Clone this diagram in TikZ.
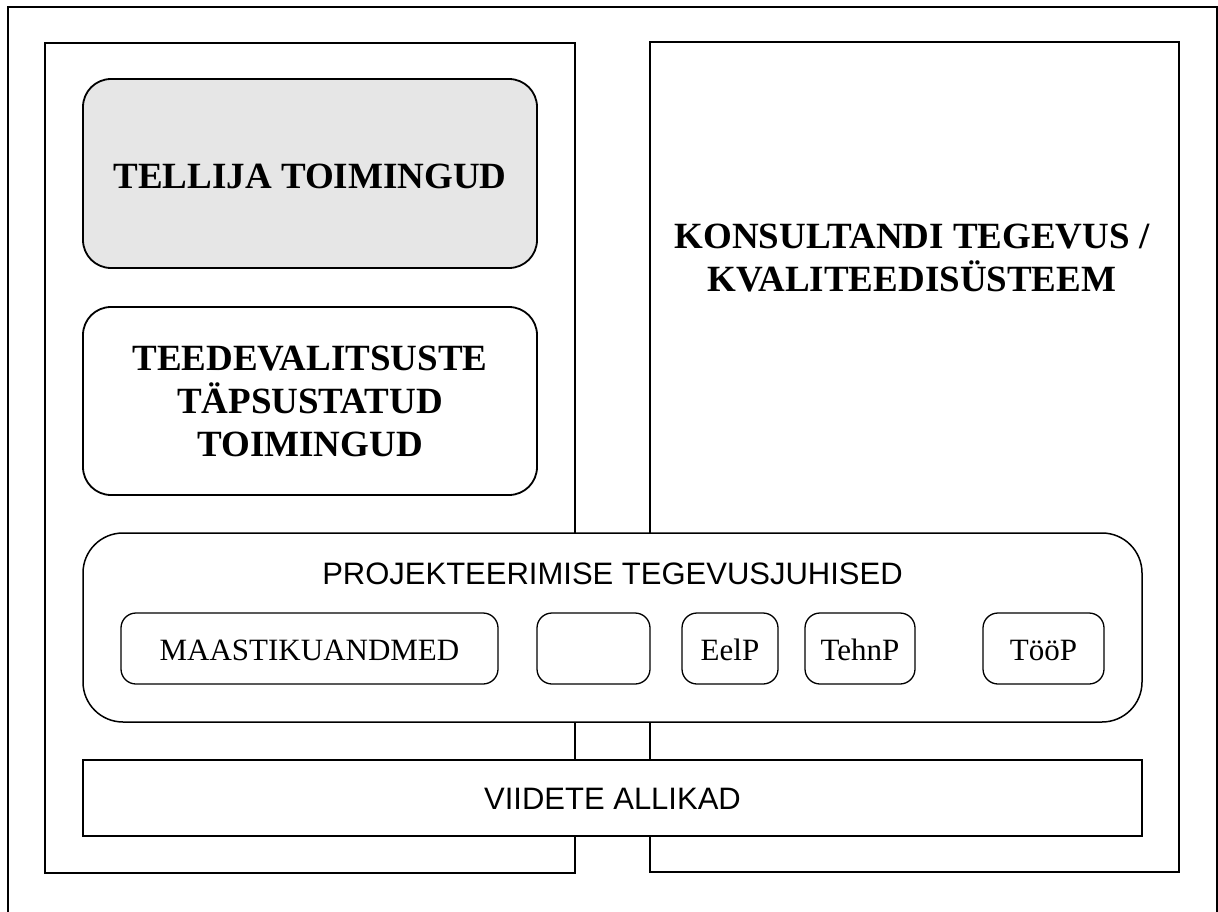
\documentclass[tikz,border=0pt]{standalone}
\usepackage{fontspec}
\setmainfont{Liberation Serif}
\setsansfont{Liberation Sans}
\definecolor{boxgray}{HTML}{E6E6E6}
\begin{document}
\begin{tikzpicture}[x=1pt,y=-1pt,
  frame/.style={draw=black,line width=2pt},
  column/.style={draw=black,line width=2pt,fill=white},
  bigbox/.style={draw=black,line width=1.8pt,rounded corners=28pt,fill=white},
  projbox/.style={draw=black,line width=1.5pt,rounded corners=40pt,fill=white},
  smallbox/.style={draw=black,line width=1.3pt,rounded corners=15pt,fill=white},
  plainbox/.style={draw=black,line width=1.5pt,fill=white},
  boldtxt/.style={font=\bfseries\fontsize{37}{43}\selectfont,align=center,inner sep=0pt},
  sanstxt/.style={font=\sffamily\fontsize{31}{34}\selectfont,inner sep=0pt,anchor=base},
  smalltxt/.style={font=\fontsize{31}{34}\selectfont,inner sep=0pt,anchor=base}]
\useasboundingbox[fill=white] (0,0) rectangle (1218,912);
% outer frame (bottom edge lies below the picture)
\draw[frame] (8,930) -- (8,7) -- (1217,7) -- (1217,930);
% columns
\path[column] (45,43) rectangle (575,873);
\path[column] (650,42) rectangle (1179,872);
% left column boxes
\path[bigbox,fill=boxgray] (83,79) rectangle (537,268);
\node[boldtxt] (tellija) at (310,176) {TELLIJA TOIMINGUD};
\path[bigbox] (83,307) rectangle (537,495);
\node[boldtxt] (teede) at (310,401) {TEEDEVALITSUSTE\\TÄPSUSTATUD\\TOIMINGUD};
% right column text
\node[boldtxt] (konsult) at (912,258) {KONSULTANDI TEGEVUS /\\KVALITEEDISÜSTEEM};
% projekteerimise box
\path[projbox] (83,533) rectangle (1142,722);
\node[sanstxt] (proj) at (612.5,584) {PROJEKTEERIMISE TEGEVUSJUHISED};
\path[smallbox] (121,613) rectangle (498,684);
\node[smalltxt] (maastik) at (309.5,660) {MAASTIKUANDMED};
\path[smallbox] (537,613) rectangle (650,684);
\node[inner sep=0pt] (empty) at (593.5,649) {};
\path[smallbox] (682,613) rectangle (778,684);
\node[smalltxt] (eelp) at (730,660) {EelP};
\path[smallbox] (805,613) rectangle (915,684);
\node[smalltxt] (tehnp) at (860,660) {TehnP};
\path[smallbox] (983,613) rectangle (1104,684);
\node[smalltxt] (toop) at (1043.5,660) {TööP};
% viidete allikad
\path[plainbox] (83,760) rectangle (1142,836);
\node[sanstxt] (viited) at (612.5,809) {VIIDETE ALLIKAD};
\end{tikzpicture}
\end{document}
